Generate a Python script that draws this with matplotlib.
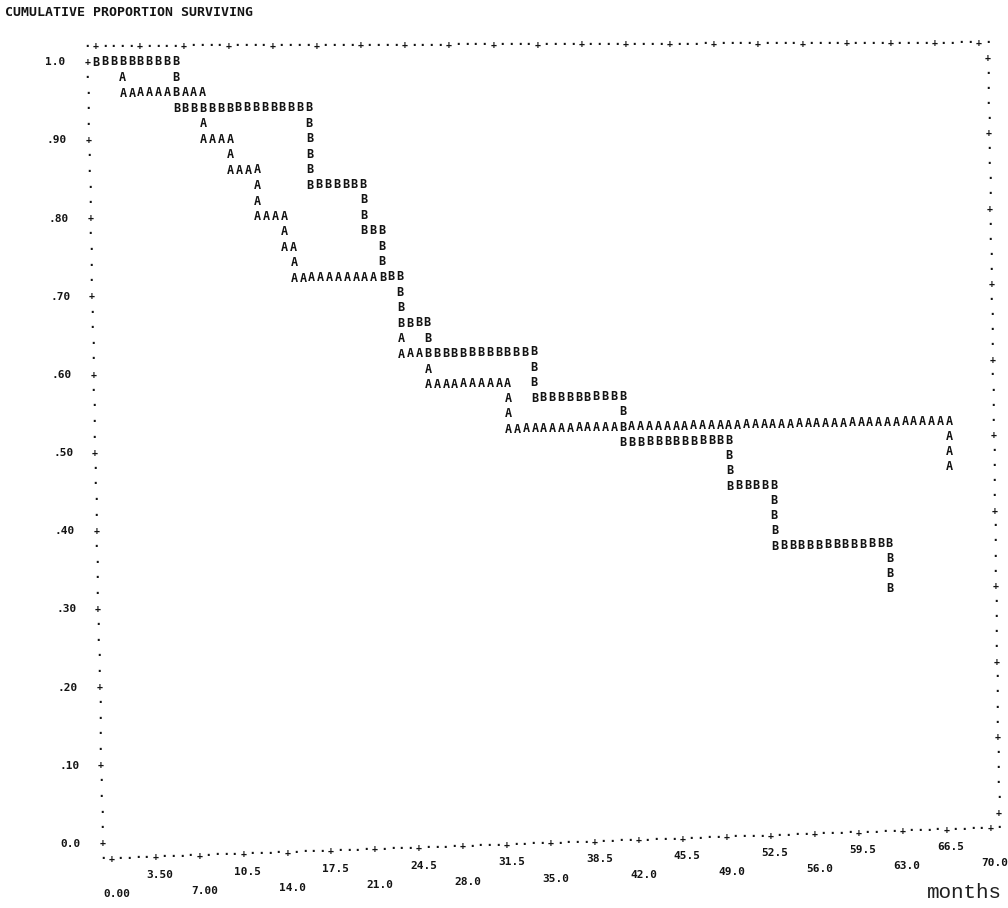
#!/usr/bin/env python3
"""
Line-printer style life-table plot: cumulative proportion surviving for
two groups (A, B) against months, drawn character by character the way the
old batch output looked (A/B symbols, dotted frame with + ticks).
"""

import matplotlib

matplotlib.use("Agg")
import matplotlib.pyplot as plt  # noqa: E402
import numpy as np  # noqa: E402
from matplotlib.transforms import Transform  # noqa: E402

# step times (months) and the cumulative proportion surviving from that time on
group_a_months = [0.0, 2.1, 8.4, 10.5, 12.6, 14.7, 15.4, 23.8, 25.9, 32.2, 67.2]
group_a_surv = [1.00, 0.96, 0.90, 0.86, 0.80, 0.76, 0.72, 0.62, 0.58, 0.52, 0.46]

group_b_months = [0.0, 6.3, 16.8, 21.0, 22.4, 23.8, 25.9, 34.3, 41.3, 49.7, 53.2, 62.3]
group_b_surv = [1.00, 0.94, 0.84, 0.78, 0.72, 0.66, 0.62, 0.56, 0.50, 0.44, 0.36, 0.30]

y_tick_values = [1.0, 0.9, 0.8, 0.7, 0.6, 0.5, 0.4, 0.3, 0.2, 0.1, 0.0]
y_tick_labels = ["1.0", ".90", ".80", ".70", ".60", ".50", ".40", ".30", ".20", ".10", "0.0"]

x_tick_values = [0.0, 3.5, 7.0, 10.5, 14.0, 17.5, 21.0, 24.5, 28.0, 31.5, 35.0,
                 38.5, 42.0, 45.5, 49.0, 52.5, 56.0, 59.5, 63.0, 66.5, 70.0]
x_tick_labels = ["0.00", "3.50", "7.00", "10.5", "14.0", "17.5", "21.0", "24.5", "28.0", "31.5", "35.0",
                 "38.5", "42.0", "45.5", "49.0", "52.5", "56.0", "59.5", "63.0", "66.5", "70.0"]

X_MAX = 70.0
X_STEP = 0.7     # months per print column
Y_STEP = 0.02    # proportion per print line
N_COLS = int(round(X_MAX / X_STEP))
N_ROWS = int(round(1.0 / Y_STEP))

W_PX, H_PX = 1008, 908
INK = "#141414"
PRINT_FONT = "DejaVu Sans Mono"


class PageWarp(Transform):
    """(months, proportion) -> page pixels.

    Bilinear between the four plot corners, so the paper skew of the
    printout (bottom edge rising to the right) is kept.
    """

    input_dims = 2
    output_dims = 2

    def __init__(self, p00, p10, p01, p11):
        super().__init__()
        self.c = np.array([p00, p10, p01, p11], dtype=float)

    def transform_non_affine(self, values):
        values = np.asarray(values, dtype=float).reshape(-1, 2)
        u = values[:, 0] / X_MAX
        v = values[:, 1]
        w = np.stack([(1 - u) * (1 - v), u * (1 - v), (1 - u) * v, u * v], axis=1)
        return w @ self.c


def step_cells(months, surv):
    """Print cells of a step curve: a run at each level, a column of symbols at each drop."""
    cols = [int(round(m / X_STEP)) for m in months]
    rows = [int(round(s / Y_STEP)) for s in surv]
    cells = []
    for i, (c, r) in enumerate(zip(cols, rows)):
        c_next = cols[i + 1] if i + 1 < len(cols) else c
        cells += [(cc, r) for cc in range(c, c_next + 1)]
        if i > 0:
            cells += [(c, rr) for rr in range(r + 1, rows[i - 1])]
    return cells


def main() -> None:
    fig = plt.figure(figsize=(W_PX / 100, H_PX / 100), dpi=100)
    ax = fig.add_axes([0, 0, 1, 1])
    ax.set_xlim(0, W_PX)
    ax.set_ylim(H_PX, 0)
    ax.axis("off")

    # corners of the plotting area on the page: (0,0), (70,0), (0,1), (70,1)
    warp = PageWarp((111, 843), (990, 813), (96, 62), (979, 58)) + ax.transData

    def put(col, row, ch, size=8.0):
        ax.text(col * X_STEP, row * Y_STEP, ch, transform=warp, ha="center", va="center",
                fontsize=size, family=PRINT_FONT, weight="bold", color=INK)

    # frame: dotted lines with + every fifth position
    for c in range(-1, N_COLS + 2):
        for r in (-1, N_ROWS + 1):
            tick = 0 <= c <= N_COLS and c % 5 == 0
            put(c, r, "+" if tick else "·", 7.0 if tick else 9.0)
    for r in range(0, N_ROWS + 1):
        for c in (-1, N_COLS + 1):
            tick = r % 5 == 0
            put(c, r, "+" if tick else "·", 7.0 if tick else 9.0)

    # A printed first, B overprints where both fall on the same cell
    grid = {}
    for cell in step_cells(group_a_months, group_a_surv):
        grid[cell] = "A"
    for cell in step_cells(group_b_months, group_b_surv):
        grid[cell] = "B"
    for (c, r), ch in grid.items():
        put(c, r, ch, 8.5)

    # axis labels
    for val, lab in zip(y_tick_values, y_tick_labels):
        ax.text(-2.4, val, lab, transform=warp, ha="right", va="center",
                fontsize=8, family=PRINT_FONT, weight="bold", color=INK)
    for i, (val, lab) in enumerate(zip(x_tick_values, x_tick_labels)):
        level = -2.15 if i % 2 else -3.3
        ax.text(val + 0.35, level * Y_STEP, lab, transform=warp, ha="center", va="center",
                fontsize=8, family=PRINT_FONT, weight="bold", color=INK)

    ax.text(5, 13, "CUMULATIVE PROPORTION SURVIVING", ha="left", va="center",
            fontsize=9.5, family=PRINT_FONT, weight="bold", color=INK)
    ax.text(1002, 892, "months", ha="right", va="center",
            fontsize=15, family="Liberation Mono", color="#202020")

    fig.savefig("out.png", dpi=100, facecolor="white")
    plt.close(fig)


if __name__ == "__main__":
    main()
